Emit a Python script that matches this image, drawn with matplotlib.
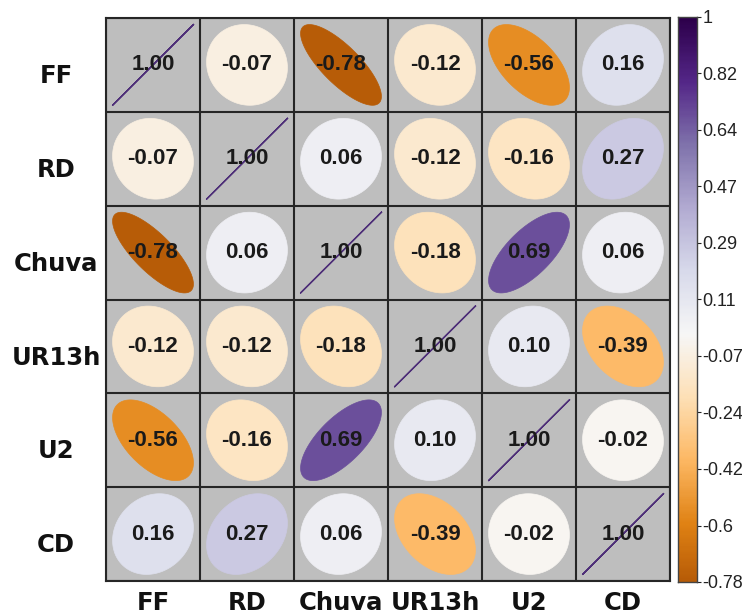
import numpy as np
import matplotlib
matplotlib.use("Agg")
import matplotlib.pyplot as plt
from matplotlib.patches import Polygon

labels = ["FF", "RD", "Chuva", "UR13h", "U2", "CD"]
corr = np.array([
    [1.00, -0.07, -0.78, -0.12, -0.56, 0.16],
    [-0.07, 1.00, 0.06, -0.12, -0.16, 0.27],
    [-0.78, 0.06, 1.00, -0.18, 0.69, 0.06],
    [-0.12, -0.12, -0.18, 1.00, 0.10, -0.39],
    [-0.56, -0.16, 0.69, 0.10, 1.00, -0.02],
    [0.16, 0.27, 0.06, -0.39, -0.02, 1.00],
])
cb_labels = ["-0.78", "-0.6", "-0.42", "-0.24", "-0.07", "0.11",
             "0.29", "0.47", "0.64", "0.82", "1"]
cb_min, cb_max = -0.78, 1.0

cmap = plt.get_cmap("PuOr")
norm = plt.Normalize(-1, 1)
n = len(labels)

W, H = 742, 615
fig = plt.figure(figsize=(W / 100, H / 100), dpi=100)
ax = fig.add_axes([106 / W, 1 - 581 / H, 564 / W, 563 / H])
ax.set_facecolor("#bebebe")

t = np.linspace(0, 2 * np.pi, 200)
for i in range(n):
    for j in range(n):
        r = corr[i, j]
        x, y = j, n - 1 - i
        d = np.arccos(np.clip(r, -1, 1))
        px = x + 0.43 * np.cos(t + d / 2)
        py = y + 0.43 * np.cos(t - d / 2)
        if i == j:
            ax.plot(px, py, color="#4e2f78", lw=1.0)
        else:
            col = cmap(norm(r))
            ax.add_patch(Polygon(np.column_stack([px, py]), closed=True,
                                 facecolor=col, edgecolor=col, lw=0.5))
        ax.text(x, y, f"{r:.2f}", ha="center", va="center", fontsize=16,
                fontweight="bold", family="Liberation Sans", color="#1a1a1a")

for k in range(n + 1):
    ax.axhline(k - 0.5, color="#262626", lw=1.5)
    ax.axvline(k - 0.5, color="#262626", lw=1.5)
for s in ax.spines.values():
    s.set_color("#262626")
    s.set_linewidth(1.5)
ax.set_xlim(-0.5, n - 0.5)
ax.set_ylim(-0.5, n - 0.5)
ax.set_xticks([])
ax.set_yticks([])

for i, lab in enumerate(labels):
    ax.annotate(lab, xy=(-0.5, n - 1 - i), xycoords="data",
                xytext=(-36, -8), textcoords="offset points",
                ha="center", va="center", fontsize=17.5, fontweight="bold",
                family="DejaVu Sans", color="#111111")
    ax.annotate(lab, xy=(i, -0.5), xycoords="data",
                xytext=(0, -16), textcoords="offset points",
                ha="center", va="center", fontsize=17.5, fontweight="bold",
                family="DejaVu Sans", color="#111111")

# colour bar
cax = fig.add_axes([678 / W, 1 - 582 / H, 19 / W, 565 / H])
grad = np.linspace(cb_min, cb_max, 300)[:, None]
cax.imshow(grad, aspect="auto", origin="lower", cmap=cmap, norm=norm,
           extent=[0, 1, cb_min, cb_max])
cax.set_xticks([])
cax.yaxis.tick_right()
cax.set_yticks(np.linspace(cb_min, cb_max, len(cb_labels)))
cax.set_yticklabels(cb_labels)
cax.tick_params(axis="y", length=3, pad=1, labelsize=13, colors="#222222")
for lab in cax.get_yticklabels():
    lab.set_family("Liberation Sans")
for s in cax.spines.values():
    s.set_color("#444444")
    s.set_linewidth(1)

fig.savefig("out.png", dpi=100)
